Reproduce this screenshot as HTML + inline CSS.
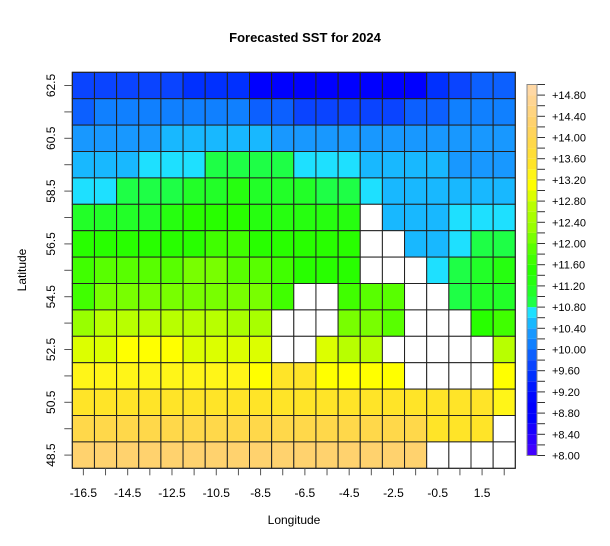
<!DOCTYPE html>
<html><head><meta charset="utf-8"><style>
body{margin:0;background:#fff;}
svg text{font-family:"Liberation Sans",Arial,sans-serif;}
</style></head><body>
<svg id="chart" width="610" height="541" xmlns="http://www.w3.org/2000/svg">
<rect width="610" height="541" fill="#fff"/>
<text x="305" y="42" text-anchor="middle" font-size="13" font-weight="bold">Forecasted SST for 2024</text>
<text x="294" y="524" text-anchor="middle" font-size="12">Longitude</text>
<text x="0" y="0" transform="translate(26,270) rotate(-90)" text-anchor="middle" font-size="12">Latitude</text>
<g id="cells"></g>
<g id="xaxis"></g>
<g id="yaxis"></g>
<g id="legend"></g>
</svg>
<script>
const lons = [-16.5,-15.5,-14.5,-13.5,-12.5,-11.5,-10.5,-9.5,-8.5,-7.5,-6.5,-5.5,-4.5,-3.5,-2.5,-1.5,-0.5,0.5,1.5,2.5];
const lats = [62.5,61.5,60.5,59.5,58.5,57.5,56.5,55.5,54.5,53.5,52.5,51.5,50.5,49.5,48.5];
const xTickLabels = ["-16.5","-14.5","-12.5","-10.5","-8.5","-6.5","-4.5","-2.5","-0.5","1.5"];
const yTickLabels = ["62.5","60.5","58.5","56.5","54.5","52.5","50.5","48.5"];
const legendLabels = ["+8.00","+8.40","+8.80","+9.20","+9.60","+10.00","+10.40","+10.80","+11.20","+11.60","+12.00","+12.40","+12.80","+13.20","+13.60","+14.00","+14.40","+14.80"];
const breakMin = 8.0, breakStep = 0.2, nBins = 35;
const palette = ["#4000ff","#2c00ff","#1800ff","#0000ff","#0000ff","#0008ff","#0018ff","#0030ff","#0a44ff","#0c60ff","#1080ff","#1898ff","#18b8ff","#1ee0ff","#1eff46","#22ff28","#26ff10","#28ff00","#40ff00","#58ff00","#78ff00","#98ff00","#a8ff00","#b8ff00","#dcff00","#ffff00","#fff518","#ffe428","#ffde38","#ffd84a","#ffd45c","#ffd26e","#ffd480","#ffd592","#ffd8a4"];
const N = null;
const row0 = [9.7,9.7,9.7,9.7,9.7,9.5,9.5,9.5,8.9,8.9,8.9,8.9,8.9,8.9,8.9,8.9,9.5,9.7,9.9,9.9];
const row1 = [9.9,10.1,10.1,10.1,10.1,10.1,10.1,10.1,9.9,9.9,9.7,9.7,9.7,9.7,9.7,9.9,9.9,10.1,10.1,10.1];
const row2 = [10.3,10.3,10.3,10.3,10.5,10.5,10.5,10.5,10.5,10.3,10.3,10.3,10.3,10.3,10.3,10.3,10.3,10.3,10.3,10.3];
const row3 = [10.5,10.5,10.5,10.7,10.7,10.7,10.9,10.9,10.9,10.9,10.7,10.7,10.7,10.5,10.5,10.5,10.5,10.3,10.3,10.3];
const row4 = [10.7,10.7,10.9,10.9,10.9,11.1,11.1,11.3,11.1,11.1,11.1,10.9,10.9,10.7,10.5,10.5,10.5,10.5,10.5,10.5];
const row5 = [11.1,11.1,11.1,11.1,11.3,11.5,11.5,11.5,11.3,11.3,11.3,11.3,11.3,N,10.5,10.5,10.5,10.7,10.7,10.7];
const row6 = [11.5,11.5,11.5,11.5,11.5,11.5,11.7,11.7,11.5,11.5,11.5,11.5,11.5,N,N,10.5,10.5,10.7,10.9,10.9];
const row7 = [11.7,11.9,11.9,11.9,11.9,12.1,12.1,11.9,11.9,11.7,11.5,11.5,11.5,N,N,N,10.7,10.9,11.1,11.3];
const row8 = [11.7,12.1,12.1,12.1,12.1,12.1,12.1,12.1,12.1,11.7,N,N,11.7,11.9,11.9,N,N,10.9,11.1,11.1];
const row9 = [12.3,12.7,12.7,12.7,12.7,12.7,12.7,12.5,12.5,N,N,N,12.1,12.1,11.9,N,N,N,11.5,11.7];
const row10 = [12.9,12.9,13.1,13.1,13.1,12.9,12.9,12.9,12.9,N,N,12.9,12.7,12.7,N,N,N,N,N,12.7];
const row11 = [13.3,13.3,13.3,13.3,13.3,13.3,13.3,13.3,13.1,13.5,13.5,13.1,13.1,13.1,13.1,N,N,N,N,13.1];
const row12 = [13.5,13.5,13.5,13.5,13.5,13.5,13.5,13.5,13.5,13.5,13.5,13.5,13.5,13.5,13.5,13.5,13.5,13.5,13.5,13.3];
const row13 = [13.9,13.9,13.9,13.9,13.9,13.9,13.9,13.9,13.9,13.9,13.9,13.9,13.9,13.9,13.9,13.9,13.5,13.5,13.5,N];
const row14 = [14.3,14.3,14.3,14.3,14.3,14.3,14.3,14.3,14.3,14.3,14.3,14.3,14.3,14.3,14.3,14.3,N,N,N,N];
const sst = [row0,row1,row2,row3,row4,row5,row6,row7,row8,row9,row10,row11,row12,row13,row14];

const NS = "http://www.w3.org/2000/svg";
const plotL = 72.3, plotR = 515.3, plotT = 72.3, plotB = 468.3;
const cellW = (plotR - plotL) / lons.length, cellH = (plotB - plotT) / lats.length;
const lonMin = lons[0], latMax = lats[0];
function xScale(lon){ return plotL + (lon - lonMin + 0.5) * cellW; }
function yScale(lat){ return plotT + (latMax - lat + 0.5) * cellH; }
function colorOf(v){ let k = Math.floor((v - breakMin) / breakStep); k = Math.max(0, Math.min(nBins - 1, k)); return palette[k]; }
function mk(tag, attrs, parent){ const e = document.createElementNS(NS, tag); for (const k in attrs) e.setAttribute(k, attrs[k]); parent.appendChild(e); return e; }

const cells = document.getElementById('cells');
lats.forEach((lat, i) => {
  lons.forEach((lon, j) => {
    const v = sst[i][j];
    const r = mk('rect', {x: xScale(lon) - cellW/2, y: yScale(lat) - cellH/2, width: cellW, height: cellH,
      fill: v === null ? '#ffffff' : colorOf(v), stroke: '#222', 'stroke-width': 1}, cells);
    
    
  });
});
const border = mk('rect', {x: plotL, y: plotT, width: plotR - plotL, height: plotB - plotT, fill: 'none', stroke: '#222', 'stroke-width': 1}, cells);



const xa = document.getElementById('xaxis');
lons.forEach(lon => {
  const t = mk('line', {x1: xScale(lon), x2: xScale(lon), y1: plotB, y2: plotB + 7, stroke: '#555'}, xa);
  
  
});
xTickLabels.forEach(s => {
  const t = mk('text', {x: xScale(parseFloat(s)), y: 497, 'text-anchor': 'middle', 'font-size': 12}, xa);
  t.textContent = s;
  
  
});
const ya = document.getElementById('yaxis');
lats.forEach(lat => {
  const t = mk('line', {x1: plotL - 8, x2: plotL, y1: yScale(lat), y2: yScale(lat), stroke: '#555'}, ya);
  
  
});
yTickLabels.forEach(s => {
  const y = yScale(parseFloat(s));
  const t = mk('text', {x: 0, y: 0, transform: `translate(55,${y}) rotate(-90)`, 'text-anchor': 'middle', 'font-size': 12}, ya);
  t.textContent = s;
  
  
});

const lg = document.getElementById('legend');
const lgL = 527, lgR = 537, lgB = 455.5, binH = 10.6;
palette.forEach((c, k) => {
  const r = mk('rect', {x: lgL, y: lgB - (k + 1) * binH, width: lgR - lgL, height: binH, fill: c}, lg);
  
  
});
for (let k = 0; k <= nBins; k++) {
  const y = lgB - k * binH;
  const t = mk('line', {x1: lgR, x2: lgR + 8, y1: y, y2: y, stroke: '#333'}, lg);
  
  
}
const lb = mk('rect', {x: lgL, y: lgB - nBins * binH, width: lgR - lgL, height: nBins * binH, fill: 'none', stroke: '#888'}, lg);


legendLabels.forEach(s => {
  const v = parseFloat(s);
  const y = lgB - (v - breakMin) / breakStep * binH;
  const t = mk('text', {x: 552, y: y + 4, 'font-size': 11}, lg);
  t.textContent = s;
  
  
});
</script>
</body></html>
